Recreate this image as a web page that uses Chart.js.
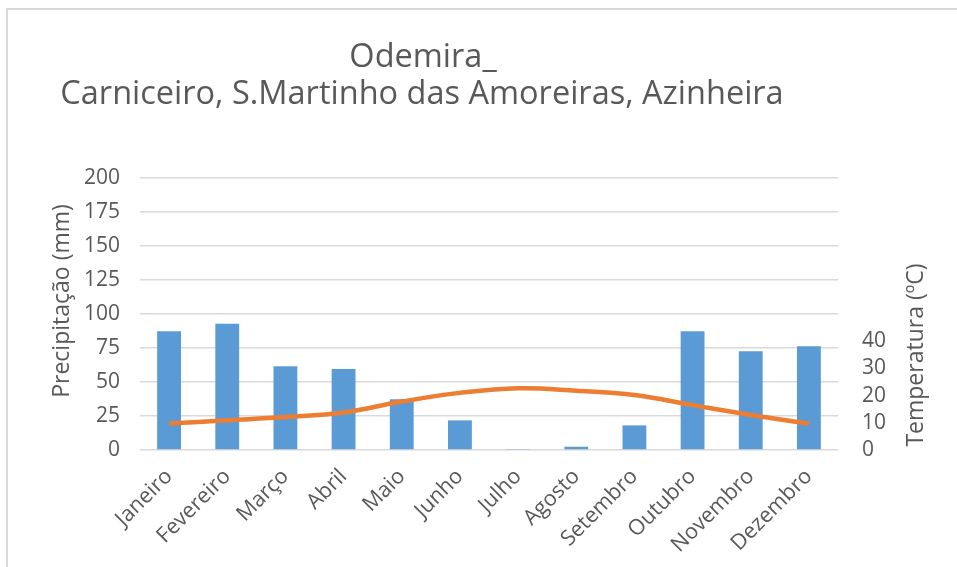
<!DOCTYPE html>
<html>
<head>
<meta charset="utf-8">
<script src="https://cdn.jsdelivr.net/npm/chart.js@4"></script>
<style>
  html, body { margin: 0; padding: 0; background: #fff; }
  #wrap { width: 957px; height: 567px; position: relative; }
</style>
</head>
<body>
<div id="wrap"><canvas id="climaChart" width="957" height="567"></canvas></div>
<script>
// dados
const meses = ["Janeiro", "Fevereiro", "Março", "Abril", "Maio", "Junho",
  "Julho", "Agosto", "Setembro", "Outubro", "Novembro", "Dezembro"];
const precipitacao = [87.3, 92.9, 61.5, 59.6, 37.3, 21.8, 0.7, 2.4, 18.1, 87.3, 72.6, 76.2];
const temperatura = [9.7, 10.9, 12.1, 13.8, 17.8, 21.0, 22.7, 21.8, 20.2, 16.5, 12.9, 9.7];
const tituloLinhas = ["Odemira_", "Carniceiro, S.Martinho das Amoreiras, Azinheira"];
const tituloPrecip = "Precipitação (mm)";
const tituloTemp = "Temperatura (ºC)";

const cinza = "#595959";
const fonte = "'Open Sans', sans-serif";

// moldura, título e títulos dos eixos
const decor = {
  id: "decor",
  beforeDraw(chart) {
    const ctx = chart.ctx;
    ctx.save();
    ctx.fillStyle = "#d9d9d9";
    ctx.fillRect(6, 8, 951, 2);
    ctx.fillRect(6, 8, 2, 559);
    ctx.restore();
  },
  afterDraw(chart) {
    const ctx = chart.ctx;
    ctx.save();
    ctx.fillStyle = cinza;
    ctx.textAlign = "center";
    ctx.textBaseline = "alphabetic";
    ctx.font = "32.5px " + fonte;
    ctx.fillText(tituloLinhas[0], 423, 67);
    ctx.fillText(tituloLinhas[1], 422, 104);

    ctx.font = "23px " + fonte;
    ctx.textBaseline = "middle";
    ctx.translate(62, 301);
    ctx.rotate(-Math.PI / 2);
    ctx.fillText(tituloPrecip, 0, 0);
    ctx.restore();

    ctx.save();
    ctx.fillStyle = cinza;
    ctx.textAlign = "center";
    ctx.textBaseline = "middle";
    ctx.font = "23px " + fonte;
    ctx.translate(916, 355);
    ctx.rotate(-Math.PI / 2);
    ctx.fillText(tituloTemp, 0, 0);
    ctx.restore();
  }
};

const ctx = document.getElementById("climaChart").getContext("2d");

new Chart(ctx, {
  type: "bar",
  data: {
    labels: meses,
    datasets: [
      {
        type: "line",
        label: "Temperatura",
        data: temperatura,
        yAxisID: "y1",
        borderColor: "#ed7d31",
        borderWidth: 4.5,
        pointRadius: 0,
        tension: 0.4,
        order: 0,
      },
      {
        type: "bar",
        label: "Precipitação",
        data: precipitacao,
        yAxisID: "y",
        backgroundColor: "#5b9bd5",
        categoryPercentage: 1,
        barPercentage: 0.41,
        order: 1,
      },
    ],
  },
  options: {
    responsive: false,
    animation: false,
    layout: { padding: { top: 178, bottom: 0, left: 0, right: 0 } },
    plugins: {
      legend: { display: false },
      tooltip: { enabled: false },
      title: { display: false },
    },
    scales: {
      x: {
        grid: { display: false },
        border: { display: false },
        ticks: {
          color: cinza,
          font: { family: fonte, size: 21.5 },
          minRotation: 45,
          maxRotation: 45,
          autoSkip: false,
          padding: 6,
        },
        afterFit(scale) { scale.height = 117; },
      },
      y: {
        position: "left",
        min: 0,
        max: 200,
        grid: { color: "#d9d9d9", lineWidth: 1.5, drawTicks: false },
        border: { display: false },
        ticks: {
          stepSize: 25,
          color: cinza,
          font: { family: fonte, size: 21 },
          padding: 20,
        },
        afterFit(scale) { scale.width = 140; },
      },
      y1: {
        position: "right",
        min: 0,
        max: 100,
        grid: { display: false, drawTicks: false },
        border: { display: false },
        ticks: {
          stepSize: 10,
          autoSkip: false,
          color: cinza,
          font: { family: fonte, size: 21 },
          padding: 24,
          callback: (v) => (v <= 40 ? v : ""),
        },
        afterFit(scale) { scale.width = 119; },
      },
    },
  },
  plugins: [decor],
});
</script>
</body>
</html>
